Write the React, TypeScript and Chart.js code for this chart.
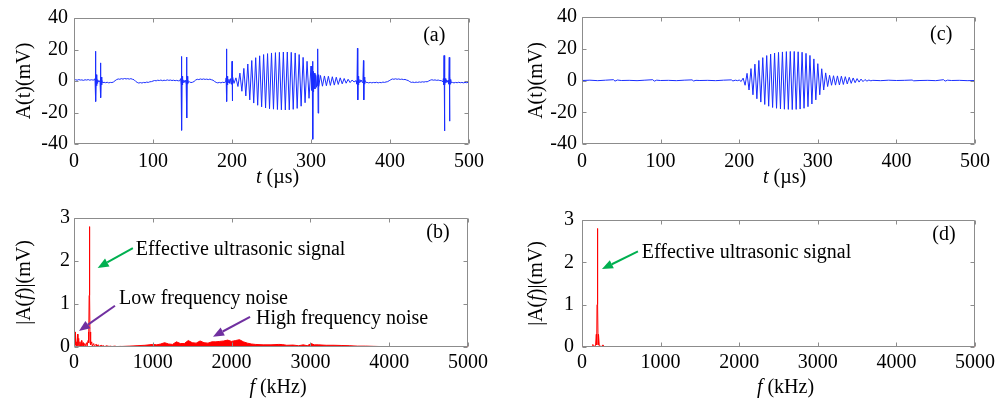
import React, { useEffect, useRef } from 'react';
import { Chart, registerables } from 'chart.js';
Chart.register(...registerables);

type P = [number, number];

const FONT = '"Liberation Serif", "Times New Roman", serif';
const BLUE = 'rgb(25,45,255)';
const RED = 'rgb(255,0,0)';
const GREEN = '#00b050';
const PURPLE = '#7030a0';
const BOX = '#8c8c8c';

// ---------- (a) raw time signal, t (µs) vs A(t) (mV) ----------
const aSegment1: P[] = [
  [0,0.4],[2,0.8],[4,0.5],[6,0.9],[8,0.6],[10,0.7],[12,0.4],[14,0.8],[16,0.6],[18,0.9],[20,0.5],[22,0.8],[24,0.6],[26,0.7],
  [26.6,1.5],[27,-2],[27.4,18.9],[27.8,-13],[28.2,4],[28.6,-3],[29,2],[29.5,-1.5],[30,0.8],[31,-0.5],[32,0.2],[33,-1],[33.4,2],[33.7,11.5],[34.1,-10.6],[34.5,2.5],[34.9,-2.5],[35.4,1],[36,-1.2],
  [38,-0.8],[40,-1.1],[42,-0.8],[44,-1.2],[46,-0.9],[48,-1],[50,-0.6],[52,0.2],[54,0.9],[56,1.3],[58,1.1],[60,1.5],[62,1.2],[64,1.6],[66,1.3],[68,1.5],[70,1.2],[72,1.5],[74,1.1],[76,0.8],[78,-0.2],[80,-0.9],[82,-1.3],[84,-1],[86,-1.3],[88,-0.9],[90,-1.1],[92,-0.7],[94,-0.9],[96,-0.5],[98,-0.4],[100,0],[102,0.3],[104,0.1],[106,0.5],[108,0.3],[110,0.6],[112,0.2],[114,0.5],[116,0.3],[118,0.7],[120,0.4],[122,0.6],[124,0.3],[126,0.5],[128,0.2],[130,0.4],[132,0.1],[134,0.2],
  [135,1.5],[135.6,-2.5],[136,15.6],[136.4,-31.3],[136.8,3],[137.2,-2.5],[137.7,1.5],[138.3,-1],[139,0.5],[140,-0.8],[141,0.5],[142,-2],[142.5,15.2],[142.9,-23.5],[143.3,3],[143.7,-2],[144.2,1],[145,-1],[146,-0.5],
  [148,-1],[150,-0.8],[152,-0.3],[154,0.6],[156,1.1],[158,0.9],[160,1.3],[162,1],[164,1.3],[166,1],[168,1.2],[170,0.9],[172,1.2],[174,0.8],[176,0.5],[178,-0.3],[180,-0.9],[182,-1.2],[184,-0.9],[186,-1.2],[188,-0.8],[190,-1],[192,-0.6],
  [192.6,2],[193,20.4],[193.4,-13],[193.8,3],[194.2,-2.5],[194.8,1.5],[195.5,-1],[196.2,1],[197,-1.5],[198,1.5],[199,-2],[199.6,2.5],[200,12.5],[200.4,-12.7],[200.8,3],
];
const aSegment2: P[] = [
  [202.5,-1.5],[205,2],[207.5,-3.5],[210,5],[212.5,-6.5],[215,8],[217.5,-9.5],[220,10.8],[222.5,-12],[225,13],[227.5,-14],[230,14.8],[232.5,-15.4],[235,16],[237.5,-16.4],[240,16.8],[242.5,-17.1],[245,17.4],[247.5,-17.6],[250,17.8],[252.5,-17.9],[255,18],[257.5,-18.1],[260,18.2],[262.5,-18.3],[265,18.4],[267.5,-18.4],[270,18.4],[272.5,-18.3],[275,18.2],[277.5,-18],[280,17.8],[282.5,-17.4],[285,16.8],[287.5,-16],[290,15],[292.5,-13.8],[295,12.5],[297.5,-11],[300,9.5],
  [301.2,-6],[301.6,5],[302,12.5],[302.4,-37],[302.8,6],[303.2,-7],[304,5],[305,-5],[306,4],[307,-4],[308,3],[308.3,-3],[308.6,20.4],[309,-20.4],[309.4,4],[310,-3.5],
  [312,3.5],[314.5,-3.3],[317,3.2],[319.5,-3],[322,3],[324.5,-2.8],[327,2.7],[329.5,-2.6],[332,2.4],[334.5,-2.2],[337,2],[339.5,-1.8],[342,1.6],[344.5,-1.4],[347,1.1],[349.5,-1],[352,0.6],[354.5,-0.6],[357,0.2],
  [358.2,-2],[358.8,20.8],[359.2,-12],[359.6,3],[360,-2.5],[360.6,1.5],[361.3,-1],[362,0.8],[363,-0.5],[364,0.5],[365,-1],[365.8,2],[366.4,13],[366.8,-12],[367.2,2.5],[367.7,-2],[368.3,1],[369,-0.8],
];
const aSegment3: P[] = [
  [371,-0.9],[373,-1.2],[375,-0.9],[377,-1.2],[379,-0.9],[381,-1.1],[383,-0.8],[385,-1.2],[387,-0.9],[389,-1.1],[391,-0.7],[393,-0.9],[395,-0.6],[397,-0.4],[399,0.2],[401,0.8],[403,1.3],[405,1.1],[407,1.4],[409,1.1],[411,1.3],[413,1],[415,1.2],[417,0.9],[419,1],[421,0.6],[423,0.3],[425,-0.4],[427,-0.9],[429,-0.7],[431,-1],[433,-0.7],[435,-0.9],[437,-0.6],[439,-0.8],[441,-0.5],[443,-0.7],[445,-0.4],[447,-0.5],[449,0],[451,0.5],[453,0.8],[455,0.5],[457,0.7],[459,0.4],[461,0.6],[463,0.3],[465,0.2],[467,-0.5],
  [467.6,1.5],[468,-2.5],[468.4,16.2],[468.8,-31.7],[469.2,3],[469.6,-2.5],[470.1,1.5],[470.7,-1],[471.5,0.6],[472.5,-0.8],[473.5,0.5],[474.5,-2],[475,15],[475.4,-25.5],[475.8,3],[476.2,-2],[476.8,1],[477.5,-1],
  [479,-0.9],[481,-1.2],[483,-0.9],[485,-1.1],[487,-0.8],[489,-1.1],[491,-0.9],[493,-1.2],[495,-0.9],[497,-1.1],[499,-0.8],[500,-1],
];

// ---------- (c) filtered time signal ----------
const cBaselinePre: P[] = [
  [0,0],[10,0.2],[20,-0.1],[30,0.2],[40,0.5],[42,-0.4],[45,0.3],[50,0],[60,0.1],[70,-0.1],[80,0.2],[90,0.5],[92,-0.4],[95,0.2],[100,0],[110,0.1],[120,-0.1],[130,0.2],[140,0.4],[142,-0.3],[145,0.1],[150,0],[160,0.1],[170,-0.1],[180,0.2],[190,0.4],[192,-0.3],[195,0.2],[198,-0.1],
];
const cBurst: P[] = [
  [200,0.3],[202.5,-0.6],[205,1.5],[207.5,-3],[210,4.5],[212.5,-6],[215,7.5],[217.5,-9],[220,10.3],[222.5,-11.5],[225,12.6],[227.5,-13.6],[230,14.4],[232.5,-15.1],[235,15.7],[237.5,-16.2],[240,16.6],[242.5,-17],[245,17.3],[247.5,-17.5],[250,17.7],[252.5,-17.9],[255,18],[257.5,-18.1],[260,18.2],[262.5,-18.2],[265,18.3],[267.5,-18.3],[270,18.3],[272.5,-18.2],[275,18.1],[277.5,-18],[280,17.8],[282.5,-17.5],[285,17.1],[287.5,-16.5],[290,15.8],[292.5,-14.8],[295,13.6],[297.5,-12.2],[300,10.6],[302.5,-9],[305,7.4],[307.5,-6],[310,4.8],[312.5,-3.8],[315,3.3],[317.5,-3],[320,3],[322.5,-2.9],[325,2.9],[327.5,-2.8],[330,2.7],[332.5,-2.5],[335,2.4],[337.5,-2.2],[340,2],[342.5,-1.8],[345,1.6],[347.5,-1.4],[350,1.2],[352.5,-1],[355,0.9],[357.5,-0.7],[360,0.6],[362.5,-0.4],[365,0.3],[367.5,-0.2],
];
const cBaselinePost: P[] = [
  [370,0.1],[380,-0.1],[390,0.2],[400,0],[410,0.1],[420,0.3],[422,-0.2],[430,0],[440,0.1],[450,-0.1],[460,0.5],[462,-0.4],[465,0.2],[470,0],[480,0.1],[490,-0.1],[500,0],
];

// ---------- (b) spectrum of raw signal, f (kHz) vs |A(f)| (mV) ----------
const bLowSpectrum: P[] = [
  [0,0.35],[3,0.05],[5,0.82],[7,0.05],[10,0.1],[13,0.35],[16,0.04],[22,0.22],[26,0.03],[33,0.12],[37,0.02],[45,0.3],[50,0.03],[60,0.2],[66,0.02],[75,0.12],[80,0.02],[95,0.15],[100,0.02],[115,0.1],[120,0.02],[135,0.08],[140,0.02],[160,0.1],[166,0.02],[178,0.15],[184,0.35],[188,0.1],[192,1.2],[196,2.8],[200,1.2],[204,0.1],[208,0.35],[214,0.05],[225,0.12],[232,0.02],[250,0.08],[258,0.02],[280,0.06],[288,0.02],[310,0.05],[318,0.01],[345,0.04],[353,0.01],[380,0.03],[390,0.01],[420,0.03],[430,0.01],[470,0.02],[480,0.01],[520,0.02],[540,0.01],[600,0.015],
];
const bHighSpectrum: P[] = [
  [600,0.012],[700,0.02],[800,0.03],[900,0.04],[1000,0.06],[1050,0.05],[1100,0.07],[1150,0.1],[1200,0.07],[1250,0.06],[1300,0.12],[1350,0.08],[1400,0.08],[1450,0.15],[1500,0.1],[1550,0.09],[1600,0.14],[1650,0.1],[1700,0.09],[1750,0.12],[1800,0.12],[1850,0.13],[1900,0.14],[1950,0.16],[2000,0.13],[2050,0.15],[2100,0.17],[2150,0.12],[2200,0.09],[2250,0.07],[2300,0.06],[2400,0.05],[2500,0.05],[2600,0.06],[2650,0.055],[2700,0.04],[2780,0.045],[2850,0.03],[2910,0.05],[2960,0.03],[3010,0.08],[3050,0.05],[3100,0.05],[3200,0.04],[3300,0.04],[3400,0.035],[3500,0.03],[3600,0.02],[3700,0.02],[3800,0.015],[3900,0.01],[4000,0.01],[4200,0.006],[4500,0.004],[5000,0.003],
];

// ---------- (d) spectrum of filtered signal ----------
const dSpectrum: P[] = [
  [0,0.004],[100,0.004],[130,0.01],[138,0.06],[146,0.01],[172,0.03],[182,0.3],[187,0.05],[191,1.0],[196,2.8],[201,1.0],[205,0.05],[210,0.3],[220,0.03],[245,0.01],[268,0.05],[280,0.005],[400,0.003],[5000,0.002],
];

// ---------- tick values ----------
const timeTicks = [0, 100, 200, 300, 400, 500];
const ampTicks = [-40, -20, 0, 20, 40];
const freqTicks = [0, 1000, 2000, 3000, 4000, 5000];
const specTicks = [0, 1, 2, 3];

// ---------- annotations (data coordinates) ----------
const bArrows = [
  { from: [747, 2.3] as P, to: [300, 1.84] as P, color: GREEN },
  { from: [520, 0.96] as P, to: [63, 0.375] as P, color: PURPLE },
  { from: [2234, 0.7] as P, to: [1764, 0.24] as P, color: PURPLE },
];
const bNotes = [
  { text: 'Effective ultrasonic signal', at: [785, 2.26] as P },
  { text: 'Low frequency noise', at: [571, 1.12] as P },
  { text: 'High frequency noise', at: [2310, 0.66] as P },
];
const dArrows = [{ from: [712, 2.26] as P, to: [254, 1.84] as P, color: GREEN }];
const dNotes = [{ text: 'Effective ultrasonic signal', at: [760, 2.22] as P }];

type Part = { t: string; i?: boolean };

function fontOf(italic?: boolean, size = 20) {
  return `${italic ? 'italic ' : ''}${size}px ${FONT}`;
}

function drawRich(ctx: CanvasRenderingContext2D, parts: Part[], x: number, y: number, center: boolean) {
  const widths = parts.map((p) => {
    ctx.font = fontOf(p.i);
    return ctx.measureText(p.t).width;
  });
  const total = widths.reduce((a, b) => a + b, 0);
  let cx = center ? x - total / 2 : x;
  ctx.textAlign = 'left';
  ctx.textBaseline = 'middle';
  parts.forEach((p, k) => {
    ctx.font = fontOf(p.i);
    ctx.fillText(p.t, cx, y);
    cx += widths[k];
  });
}

type Spec = {
  datasets: any[];
  xr: [number, number, number];
  yr: [number, number, number];
  yWidth: number;
  xHeight: number;
  padTop: number;
  padRight: number;
  yTickPad: number;
  xTickPad: number;
  xTitle: Part[];
  xTitleDx: number;
  xTitleDy: number;
  yTitle: Part[];
  yTitleDx: number;
  label: { text: string; at: P };
  arrows: { from: P; to: P; color: string }[];
  notes: { text: string; at: P }[];
};

function makeConfig(spec: Spec): any {
  const decor = {
    id: 'decor',
    afterDraw(chart: any) {
      const { ctx, chartArea: ca, scales } = chart;
      const xs = scales.x;
      const ys = scales.y;
      ctx.save();
      // box
      ctx.strokeStyle = BOX;
      ctx.lineWidth = 1;
      const L = Math.round(ca.left) + 0.5;
      const R = Math.round(ca.right) - 0.5;
      const T = Math.round(ca.top) + 0.5;
      const B = Math.round(ca.bottom) - 0.5;
      ctx.beginPath();
      ctx.rect(L, T, R - L, B - T);
      ctx.stroke();
      // inward ticks on all sides
      ctx.beginPath();
      xs.ticks.forEach((tk: any) => {
        const px = Math.round(xs.getPixelForValue(tk.value)) + 0.5;
        ctx.moveTo(px, B); ctx.lineTo(px, B - 4);
        ctx.moveTo(px, T); ctx.lineTo(px, T + 4);
      });
      ys.ticks.forEach((tk: any) => {
        const py = Math.round(ys.getPixelForValue(tk.value)) + 0.5;
        ctx.moveTo(L, py); ctx.lineTo(L + 4, py);
        ctx.moveTo(R, py); ctx.lineTo(R - 4, py);
      });
      ctx.stroke();
      // axis titles
      ctx.fillStyle = '#000';
      drawRich(ctx, spec.xTitle, (ca.left + ca.right) / 2 + spec.xTitleDx, ca.bottom + spec.xTitleDy, true);
      ctx.save();
      ctx.translate(ca.left - spec.yTitleDx, (ca.top + ca.bottom) / 2);
      ctx.rotate(-Math.PI / 2);
      drawRich(ctx, spec.yTitle, 0, 0, true);
      ctx.restore();
      // panel label
      drawRich(ctx, [{ t: spec.label.text }], xs.getPixelForValue(spec.label.at[0]), ys.getPixelForValue(spec.label.at[1]), true);
      // arrows
      spec.arrows.forEach((a) => {
        const x1 = xs.getPixelForValue(a.from[0]);
        const y1 = ys.getPixelForValue(a.from[1]);
        const x2 = xs.getPixelForValue(a.to[0]);
        const y2 = ys.getPixelForValue(a.to[1]);
        const ang = Math.atan2(y2 - y1, x2 - x1);
        const hl = 11, hw = 4.5;
        const bx = x2 - hl * Math.cos(ang);
        const by = y2 - hl * Math.sin(ang);
        ctx.strokeStyle = a.color;
        ctx.fillStyle = a.color;
        ctx.lineWidth = 2;
        ctx.beginPath();
        ctx.moveTo(x1, y1);
        ctx.lineTo(bx, by);
        ctx.stroke();
        ctx.beginPath();
        ctx.moveTo(x2, y2);
        ctx.lineTo(bx + hw * Math.sin(ang), by - hw * Math.cos(ang));
        ctx.lineTo(bx - hw * Math.sin(ang), by + hw * Math.cos(ang));
        ctx.closePath();
        ctx.fill();
      });
      ctx.fillStyle = '#000';
      spec.notes.forEach((n) => {
        drawRich(ctx, [{ t: n.text }], xs.getPixelForValue(n.at[0]), ys.getPixelForValue(n.at[1]), false);
      });
      ctx.restore();
    },
  };
  const tickFont = { family: FONT, size: 20 };
  return {
    type: 'line',
    data: { datasets: spec.datasets },
    plugins: [decor],
    options: {
      animation: false,
      responsive: false,
      maintainAspectRatio: false,
      events: [],
      layout: { padding: { left: 0, top: spec.padTop, right: spec.padRight, bottom: 0 } },
      plugins: { legend: { display: false }, tooltip: { enabled: false } },
      elements: { point: { radius: 0 }, line: { tension: 0 } },
      scales: {
        x: {
          type: 'linear',
          min: spec.xr[0],
          max: spec.xr[1],
          grid: { display: false, drawTicks: false },
          border: { display: false },
          ticks: {
            stepSize: spec.xr[2],
            autoSkip: false,
            maxRotation: 0,
            padding: spec.xTickPad,
            color: '#000',
            font: tickFont,
            callback: (v: any) => String(v),
          },
          afterFit: (s: any) => { s.height = spec.xHeight; },
        },
        y: {
          type: 'linear',
          min: spec.yr[0],
          max: spec.yr[1],
          grid: { display: false, drawTicks: false },
          border: { display: false },
          ticks: {
            stepSize: spec.yr[2],
            autoSkip: false,
            padding: spec.yTickPad,
            color: '#000',
            font: tickFont,
            callback: (v: any) => String(v),
          },
          afterFit: (s: any) => { s.width = spec.yWidth; },
        },
      },
    },
  };
}

const toXY = (pts: P[]) => pts.map(([x, y]) => ({ x, y }));

const tTitle: Part[] = [{ t: 't', i: true }, { t: ' (\u00b5s)' }];
const aTitle: Part[] = [{ t: 'A(t)(mV)' }];
const fTitle: Part[] = [{ t: 'f', i: true }, { t: ' (kHz)' }];
const afTitle: Part[] = [{ t: '|A(' }, { t: 'f', i: true }, { t: ')|(mV)' }];

function lineSet(pts: P[], color: string, fill = false) {
  return {
    data: toXY(pts),
    borderColor: color,
    backgroundColor: color,
    borderWidth: 1,
    pointRadius: 0,
    fill: fill ? 'origin' : false,
  };
}

export default function App() {
  const refA = useRef<HTMLCanvasElement>(null);
  const refB = useRef<HTMLCanvasElement>(null);
  const refC = useRef<HTMLCanvasElement>(null);
  const refD = useRef<HTMLCanvasElement>(null);

  useEffect(() => {
    const timeRange: [number, number, number] = [timeTicks[0], timeTicks[timeTicks.length - 1], timeTicks[1] - timeTicks[0]];
    const ampRange: [number, number, number] = [ampTicks[0], ampTicks[ampTicks.length - 1], ampTicks[1] - ampTicks[0]];
    const freqRange: [number, number, number] = [freqTicks[0], freqTicks[freqTicks.length - 1], freqTicks[1] - freqTicks[0]];
    const specRange: [number, number, number] = [specTicks[0], specTicks[specTicks.length - 1], specTicks[1] - specTicks[0]];

    const specA: Spec = {
      datasets: [lineSet([...aSegment1, ...aSegment2, ...aSegment3], BLUE)],
      xr: timeRange, yr: ampRange,
      yWidth: 74, xHeight: 56, padTop: 15, padRight: 33,
      yTickPad: 6, xTickPad: 6,
      xTitle: tTitle, xTitleDx: 6, xTitleDy: 34,
      yTitle: aTitle, yTitleDx: 49,
      label: { text: '(a)', at: [456, 28.8] },
      arrows: [], notes: [],
    };
    const specC: Spec = {
      datasets: [lineSet([...cBaselinePre, ...cBurst, ...cBaselinePost], BLUE)],
      xr: timeRange, yr: ampRange,
      yWidth: 80, xHeight: 56, padTop: 15, padRight: 30,
      yTickPad: 5, xTickPad: 6,
      xTitle: tTitle, xTitleDx: 6, xTitleDy: 34,
      yTitle: aTitle, yTitleDx: 45,
      label: { text: '(c)', at: [457, 28.8] },
      arrows: [], notes: [],
    };
    const specB: Spec = {
      datasets: [lineSet(bLowSpectrum, RED), lineSet(bHighSpectrum, RED, true)],
      xr: freqRange, yr: specRange,
      yWidth: 74, xHeight: 54, padTop: 18, padRight: 34,
      yTickPad: 4, xTickPad: 4,
      xTitle: fTitle, xTitleDx: 7, xTitleDy: 41,
      yTitle: afTitle, yTitleDx: 49,
      label: { text: '(b)', at: [4619, 2.65] },
      arrows: bArrows, notes: bNotes,
    };
    const specD: Spec = {
      datasets: [lineSet(dSpectrum, RED)],
      xr: freqRange, yr: specRange,
      yWidth: 80, xHeight: 54, padTop: 18, padRight: 30,
      yTickPad: 8, xTickPad: 4,
      xTitle: fTitle, xTitleDx: 7, xTitleDy: 41,
      yTitle: afTitle, yTitleDx: 45,
      label: { text: '(d)', at: [4606, 2.65] },
      arrows: dArrows, notes: dNotes,
    };

    const charts = [
      new Chart(refA.current!, makeConfig(specA)),
      new Chart(refC.current!, makeConfig(specC)),
      new Chart(refB.current!, makeConfig(specB)),
      new Chart(refD.current!, makeConfig(specD)),
    ];
    return () => charts.forEach((c) => c.destroy());
  }, []);

  return (
    <div style={{ position: 'fixed', left: 0, top: 0, width: 1005, height: 401, background: '#fff' }}>
      <canvas ref={refA} width={502} height={200} style={{ position: 'absolute', left: 0, top: 0 }} />
      <canvas ref={refC} width={503} height={200} style={{ position: 'absolute', left: 502, top: 0 }} />
      <canvas ref={refB} width={502} height={201} style={{ position: 'absolute', left: 0, top: 200 }} />
      <canvas ref={refD} width={503} height={201} style={{ position: 'absolute', left: 502, top: 200 }} />
    </div>
  );
}
